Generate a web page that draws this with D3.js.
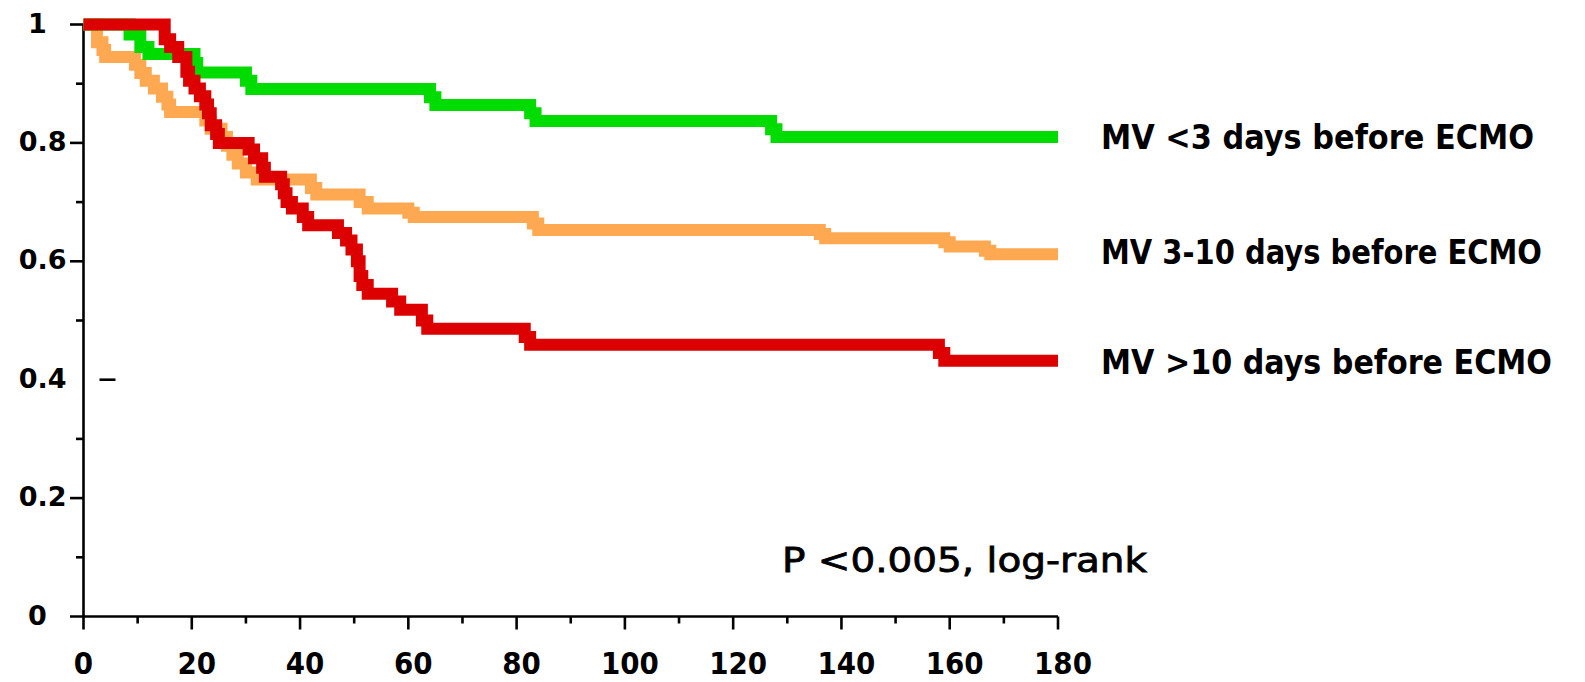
<!DOCTYPE html>
<html>
<head>
<meta charset="utf-8">
<script src="https://cdn.jsdelivr.net/npm/d3@7"></script>
<style>
  html, body { margin: 0; padding: 0; background: #fff; }
  svg { display: block; }
</style>
</head>
<body>
<svg id="chart" width="1585" height="682"></svg>
<script>
// Kaplan-Meier survival by duration of mechanical ventilation before ECMO.
// Each series: event days and survival level after each event (step-after).
const dayTicks = [0, 20, 40, 60, 80, 100, 120, 140, 160, 180];
const dayMinorTicks = [10, 30, 50, 70, 90, 110, 130, 150, 170];
const survTicks = ["0", "0.2", "0.4", "0.6", "0.8", "1"];
const survMinorTicks = [0.1, 0.3, 0.5, 0.7, 0.9];
const seriesNames = ["MV <3 days before ECMO", "MV 3-10 days before ECMO", "MV >10 days before ECMO"];
const seriesColors = ["#00dc00", "#ffa852", "#dc0000"];

const shortDays = [0, 8.5, 10.5, 12, 20.5, 21, 30, 31, 64, 65, 82.5, 83.5, 127, 128, 180];
const shortSurv = [1, 0.983, 0.962, 0.95, 0.935, 0.919, 0.905, 0.891, 0.877, 0.864, 0.85, 0.837, 0.823, 0.81, 0.81];

const midDays = [0, 2.5, 3.5, 4, 9.5, 10.5, 11.5, 13, 14.5, 15.5, 16, 22.5, 23.5, 25.5, 26.5, 27.5, 28.5, 30, 32,
                 42, 43, 51, 52.5, 60, 61, 83, 84, 136, 137, 159, 160, 166.5, 167.5, 180];
const midSurv = [1, 0.97, 0.957, 0.945, 0.932, 0.918, 0.905, 0.892, 0.878, 0.865, 0.852, 0.838, 0.824, 0.81, 0.795, 0.78, 0.765, 0.75, 0.738,
                 0.724, 0.713, 0.70, 0.689, 0.682, 0.675, 0.664, 0.653, 0.646, 0.639, 0.632, 0.625, 0.618, 0.612, 0.612];

const longDays = [0, 15, 16, 17.5, 19, 19.5, 20.5, 21.5, 22.5, 23, 23.5, 24.5, 25, 30.5, 31.5, 33, 33.5, 36.5, 37, 37.5, 38.5,
                  40.5, 41.5, 47, 48.5, 49.5, 50.5, 51, 51.5, 52.5, 57, 58.5, 62.5, 63.5, 81.5, 82.5, 158, 159, 180];
const longSurv = [1, 0.975, 0.962, 0.945, 0.92, 0.905, 0.892, 0.879, 0.865, 0.85, 0.83, 0.815, 0.80, 0.789, 0.774, 0.758, 0.743, 0.73, 0.715, 0.70, 0.689,
                  0.675, 0.661, 0.648, 0.635, 0.62, 0.60, 0.575, 0.56, 0.545, 0.532, 0.518, 0.50, 0.486, 0.472, 0.459, 0.445, 0.432, 0.432];

const svg = d3.select("#chart");
const x = d3.scaleLinear().domain([0, 180]).range([83.5, 1058]);
const y = d3.scaleLinear().domain([0, 1]).range([616.5, 24.5]);
const font = "DejaVu Sans, Verdana, sans-serif";

// axes
const axis = svg.append("g").attr("stroke", "#000").attr("stroke-width", 2.6);
axis.append("line").attr("x1", x(0)).attr("x2", x(0)).attr("y1", y(0)).attr("y2", y(1));
axis.append("line").attr("x1", 70).attr("x2", x(180)).attr("y1", y(0)).attr("y2", y(0));
axis.selectAll(".ym").data(survTicks.map(Number).filter(v => v > 0 && v !== 0.4)).join("line")
  .attr("x1", 70).attr("x2", x(0)).attr("y1", d => y(d)).attr("y2", d => y(d));
axis.selectAll(".yn").data(survMinorTicks).join("line")
  .attr("x1", 76).attr("x2", x(0)).attr("y1", d => y(d)).attr("y2", d => y(d));
// the 0.4 tick sits inside the plot as a short dash
axis.append("line").attr("x1", x(0) + 16).attr("x2", x(0) + 32).attr("y1", y(0.4)).attr("y2", y(0.4));
axis.selectAll(".xm").data(dayTicks).join("line")
  .attr("x1", d => x(d)).attr("x2", d => x(d)).attr("y1", y(0)).attr("y2", y(0) + 13);
axis.selectAll(".xn").data(dayMinorTicks).join("line")
  .attr("x1", d => x(d)).attr("x2", d => x(d)).attr("y1", y(0)).attr("y2", y(0) + 7);

// y tick labels
svg.append("g").selectAll("text").data(survTicks).join("text")
  .attr("font-family", font)
  .attr("font-weight", "bold")
  .attr("font-size", 27)
  .attr("text-anchor", d => d.length === 1 ? "middle" : "end")
  .attr("x", d => d.length === 1 ? 37.5 : 66.5)
  .attr("y", d => y(+d) + 8)
  .attr("fill", "#000")
  .text(d => d);

// x tick labels
svg.append("g").selectAll("text").data(dayTicks).join("text")
  .attr("font-family", font)
  .attr("font-weight", "bold")
  .attr("font-size", 31)
  .attr("text-anchor", "middle")
  .attr("x", d => x(d) + (d === 0 ? 0 : 5))
  .attr("y", 674)
  .attr("textLength", d => String(d).length * 19.3)
  .attr("lengthAdjust", "spacingAndGlyphs")
  .text(d => d);

// survival curves
const curves = [
  { days: midDays, surv: midSurv, color: seriesColors[1] },
  { days: shortDays, surv: shortSurv, color: seriesColors[0] },
  { days: longDays, surv: longSurv, color: seriesColors[2] }
];
const line = d3.line().curve(d3.curveStepAfter).x(d => x(d[0])).y(d => y(d[1]));
svg.append("g").selectAll("path").data(curves).join("path")
  .attr("d", c => line(c.days.map((t, i) => [t, c.surv[i]])))
  .attr("fill", "none")
  .attr("stroke", c => c.color)
  .attr("stroke-width", 12)
  .attr("stroke-linejoin", "miter")
  .attr("stroke-linecap", "butt");

// series labels at the right end of each curve
const labelBaselines = [149.3, 264.3, 374.3];
const labelWidths = [433, 441, 451];
svg.append("g").selectAll("g").data(seriesNames).join("g")
  .attr("transform", (d, i) => `translate(1101,${labelBaselines[i]}) scale(1,1.075)`)
  .append("text")
  .attr("font-family", font)
  .attr("font-weight", "bold")
  .attr("font-size", 31)
  .attr("x", 0)
  .attr("y", 0)
  .attr("textLength", (d, i) => labelWidths[i])
  .attr("lengthAdjust", "spacingAndGlyphs")
  .attr("fill", "#000")
  .text(d => d);

svg.append("text")
  .attr("font-family", font)
  .attr("font-size", 34.5)
  .attr("x", 782)
  .attr("y", 571.7)
  .attr("textLength", 365)
  .attr("lengthAdjust", "spacingAndGlyphs")
  .attr("fill", "#000")
  .attr("stroke", "#000")
  .attr("stroke-width", 0.8)
  .text("P <0.005, log-rank");
</script>
</body>
</html>
